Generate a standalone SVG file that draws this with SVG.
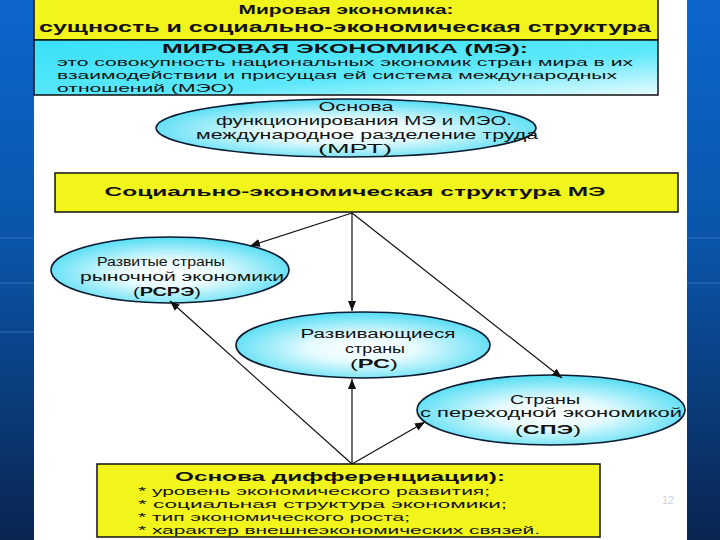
<svg xmlns="http://www.w3.org/2000/svg" width="720" height="540" viewBox="0 0 720 540">
<defs>
  <linearGradient id="bg" x1="0" y1="0" x2="0" y2="1">
    <stop offset="0" stop-color="#0d66cc"/>
    <stop offset="0.45" stop-color="#0a55aa"/>
    <stop offset="1" stop-color="#0a2550"/>
  </linearGradient>
  <linearGradient id="cyanbox" x1="0" y1="0" x2="1" y2="1">
    <stop offset="0" stop-color="#38e0f8"/>
    <stop offset="0.6" stop-color="#5ce8fa"/>
    <stop offset="1" stop-color="#e8fbff"/>
  </linearGradient>
  <radialGradient id="ell" cx="0.5" cy="0.55" r="0.6">
    <stop offset="0" stop-color="#ffffff"/>
    <stop offset="0.35" stop-color="#e6fbff"/>
    <stop offset="1" stop-color="#3ed8f2"/>
  </radialGradient>
  <marker id="arr" viewBox="0 0 10 10" refX="10" refY="5" markerWidth="10" markerHeight="10" markerUnits="userSpaceOnUse" orient="auto">
    <path d="M0,1 L10,5 L0,9 z" fill="#111"/>
  </marker>
  <style>
    .t { font-family: "Liberation Sans", Arial, sans-serif; fill: #111; }
    .b { font-weight: bold; }
    .ybox { fill: #f2f51c; stroke: #111; stroke-width: 1.5; }
    .el { fill: url(#ell); stroke: #0a1a30; stroke-width: 1.6; }
    .con { stroke: #111; stroke-width: 1.2; fill: none; marker-end: url(#arr); }
  </style>
</defs>

<rect x="0" y="0" width="720" height="540" fill="url(#bg)"/>
<line x1="0" y1="238" x2="34" y2="238" stroke="#4a86cc" stroke-width="1" opacity="0.6"/>
<line x1="0" y1="283" x2="34" y2="283" stroke="#4a86cc" stroke-width="1" opacity="0.6"/>
<line x1="0" y1="332" x2="34" y2="332" stroke="#4a86cc" stroke-width="1" opacity="0.6"/>
<line x1="687" y1="238" x2="720" y2="238" stroke="#4a86cc" stroke-width="1" opacity="0.6"/>
<line x1="687" y1="283" x2="720" y2="283" stroke="#4a86cc" stroke-width="1" opacity="0.6"/>
<rect x="34" y="0" width="653" height="540" fill="#ffffff"/>

<g id="title">
  <rect class="ybox" x="34" y="-2" width="624" height="42"/>
  <text class="t b" x="346" y="14" font-size="13" text-anchor="middle" textLength="215" lengthAdjust="spacingAndGlyphs">Мировая экономика:</text>
  <text class="t b" x="345" y="32" font-size="14" text-anchor="middle" textLength="612" lengthAdjust="spacingAndGlyphs">сущность и социально-экономическая структура</text>
</g>

<g id="definition">
  <rect x="34" y="40" width="624" height="55" fill="url(#cyanbox)" stroke="#111" stroke-width="1.5"/>
  <text class="t b" x="345" y="53" font-size="13" text-anchor="middle" textLength="366" lengthAdjust="spacingAndGlyphs">МИРОВАЯ ЭКОНОМИКА (МЭ):</text>
  <text class="t" x="57" y="66" font-size="11.5" textLength="576" lengthAdjust="spacingAndGlyphs">это совокупность национальных экономик стран мира в их</text>
  <text class="t" x="57" y="79" font-size="11.5" textLength="560" lengthAdjust="spacingAndGlyphs">взаимодействии и присущая ей система международных</text>
  <text class="t" x="57" y="92" font-size="11.5" textLength="177" lengthAdjust="spacingAndGlyphs">отношений (МЭО)</text>
</g>

<g id="basis">
  <ellipse class="el" cx="346" cy="128" rx="190" ry="29"/>
  <text class="t" x="356" y="111" font-size="12" text-anchor="middle" textLength="75" lengthAdjust="spacingAndGlyphs">Основа</text>
  <text class="t" x="364" y="125" font-size="12" text-anchor="middle" textLength="296" lengthAdjust="spacingAndGlyphs">функционирования МЭ и МЭО.</text>
  <text class="t" x="367" y="139" font-size="12" text-anchor="middle" textLength="342" lengthAdjust="spacingAndGlyphs">международное разделение труда</text>
  <text class="t" x="355" y="153" font-size="12" text-anchor="middle" textLength="74" lengthAdjust="spacingAndGlyphs">(МРТ)</text>
</g>

<g id="structure">
  <rect class="ybox" x="55" y="173" width="623" height="39"/>
  <text class="t b" x="355" y="196" font-size="13" text-anchor="middle" textLength="501" lengthAdjust="spacingAndGlyphs">Социально-экономическая структура МЭ</text>
</g>

<g id="developed">
  <ellipse class="el" cx="170" cy="270" rx="119" ry="33"/>
  <text class="t" x="161" y="266" font-size="12" text-anchor="middle" textLength="128" lengthAdjust="spacingAndGlyphs">Развитые страны</text>
  <text class="t" x="182" y="281" font-size="12" text-anchor="middle" textLength="204" lengthAdjust="spacingAndGlyphs">рыночной экономики</text>
  <text class="t" x="167" y="296" font-size="12" text-anchor="middle" textLength="68" lengthAdjust="spacingAndGlyphs">(<tspan class="b">РСРЭ</tspan>)</text>
</g>

<g id="developing">
  <ellipse class="el" cx="363" cy="345" rx="127" ry="33"/>
  <text class="t" x="378" y="338" font-size="12" text-anchor="middle" textLength="155" lengthAdjust="spacingAndGlyphs">Развивающиеся</text>
  <text class="t" x="375" y="353" font-size="12" text-anchor="middle" textLength="60" lengthAdjust="spacingAndGlyphs">страны</text>
  <text class="t" x="374" y="368" font-size="12" text-anchor="middle" textLength="48" lengthAdjust="spacingAndGlyphs">(<tspan class="b">РС</tspan>)</text>
</g>

<g id="transition">
  <ellipse class="el" cx="551" cy="410" rx="134" ry="35"/>
  <text class="t" x="545" y="404" font-size="12" text-anchor="middle" textLength="70" lengthAdjust="spacingAndGlyphs">Страны</text>
  <text class="t" x="551" y="417" font-size="12" text-anchor="middle" textLength="262" lengthAdjust="spacingAndGlyphs">с переходной экономикой</text>
  <text class="t" x="548" y="434" font-size="12" text-anchor="middle" textLength="66" lengthAdjust="spacingAndGlyphs">(<tspan class="b">СПЭ</tspan>)</text>
</g>

<g id="differentiation">
  <rect class="ybox" x="97" y="464" width="503" height="73"/>
  <text class="t b" x="340" y="481" font-size="13" text-anchor="middle" textLength="330" lengthAdjust="spacingAndGlyphs">Основа дифференциации):</text>
  <text class="t" x="138" y="495" font-size="11.5" textLength="352" lengthAdjust="spacingAndGlyphs">* уровень экономического развития;</text>
  <text class="t" x="138" y="508" font-size="11.5" textLength="369" lengthAdjust="spacingAndGlyphs">* социальная структура экономики;</text>
  <text class="t" x="138" y="521" font-size="11.5" textLength="272" lengthAdjust="spacingAndGlyphs">* тип экономического роста;</text>
  <text class="t" x="138" y="534" font-size="11.5" textLength="402" lengthAdjust="spacingAndGlyphs">* характер внешнеэкономических связей.</text>
</g>

<g id="connectors">
  <line class="con" x1="352" y1="213" x2="250" y2="246"/>
  <line class="con" x1="352" y1="213" x2="352" y2="311"/>
  <line class="con" x1="352" y1="213" x2="562" y2="378"/>
  <line class="con" x1="352" y1="464" x2="170" y2="301"/>
  <line class="con" x1="352" y1="464" x2="352" y2="379"/>
  <line class="con" x1="352" y1="464" x2="425" y2="422"/>
</g>

<text class="t" x="668" y="504" font-size="11" text-anchor="middle" style="fill:#c8d4e0">12</text>
</svg>
